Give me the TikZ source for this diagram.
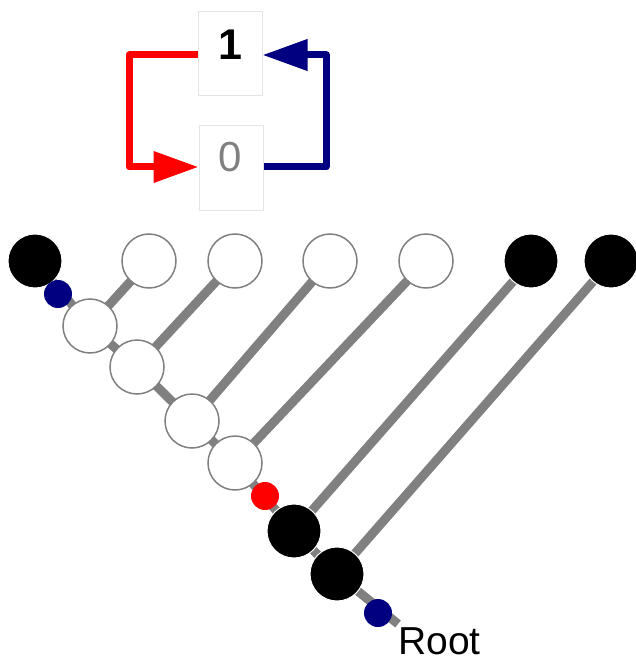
\documentclass[tikz,border=0pt]{standalone}
\usepackage{fontspec}
\setmainfont{Liberation Sans}
\usetikzlibrary{arrows.meta}
\definecolor{navyc}{RGB}{0,0,128}
\definecolor{boxgray}{RGB}{228,228,228}
\tikzset{
  leafw/.style={circle,draw={rgb,255:red,128;green,128;blue,128},line width=1.5pt,fill=white,minimum size=54pt,inner sep=0pt},
  leafb/.style={circle,draw=white,line width=1pt,fill=black,minimum size=54pt,inner sep=0pt},
  dotc/.style={circle,fill=#1,minimum size=28pt,inner sep=0pt},
  edge/.style={draw={rgb,255:red,128;green,128;blue,128},line width=9pt},
  statebox/.style={draw=boxgray,line width=1pt,fill=white,minimum width=64pt,minimum height=84pt,inner sep=0pt},
  legline/.style={line width=7pt,line join=round,-{Triangle[length=45pt,width=30pt]}},
}
\begin{document}
\begin{tikzpicture}[x=1pt,y=-1pt]
\useasboundingbox (0,0) rectangle (635,663);
% legend
\node[statebox] (b1) at (230,54) {};
\node[statebox] (b0) at (231,168) {};
\node[font=\fontsize{43}{43}\selectfont\bfseries] (t1) at (230,45) {1};
\node[font=\fontsize{42}{42}\selectfont,text={rgb,255:red,128;green,128;blue,128}] (t0) at (230,157) {0};
\draw[legline,red] (b1.west |- 0,55) -| (129,167) -- (b0.west |- 0,167);
\draw[legline,navyc] (b0.east |- 0,167) -| (326,55) -- (b1.east |- 0,55);
% tree coordinates
\coordinate (L0) at (35,261);
\coordinate (L1) at (149,261);
\coordinate (L2) at (235,261);
\coordinate (L3) at (330,261);
\coordinate (L4) at (426,261);
\coordinate (L5) at (531,261);
\coordinate (L6) at (611,261);
\coordinate (N1) at (90,326);
\coordinate (N2) at (137,367);
\coordinate (N3) at (192,421);
\coordinate (N4) at (235,463);
\coordinate (N5) at (294,531);
\coordinate (N6) at (337,574);
\coordinate (E) at (398,624);
% edges
\draw[edge] (L0) -- (N1) -- (N2) -- (N3) -- (N4) -- (N5) -- (N6) -- (E);
\draw[edge] (N1) -- (L1);
\draw[edge] (N2) -- (L2);
\draw[edge] (N3) -- (L3);
\draw[edge] (N4) -- (L4);
\draw[edge] (N5) -- (L5);
\draw[edge] (N6) -- (L6);
% nodes
\node[leafb] (l0) at (L0) {};
\node[leafw] (l1) at (L1) {};
\node[leafw] (l2) at (L2) {};
\node[leafw] (l3) at (L3) {};
\node[leafw] (l4) at (L4) {};
\node[leafb] (l5) at (L5) {};
\node[leafb] (l6) at (L6) {};
\node[leafw] (n1) at (N1) {};
\node[leafw] (n2) at (N2) {};
\node[leafw] (n3) at (N3) {};
\node[leafw] (n4) at (N4) {};
\node[leafb] (n5) at (N5) {};
\node[leafb] (n6) at (N6) {};
\node[dotc=navyc] (d1) at (58,294) {};
\node[dotc=red] (d2) at (265,496) {};
\node[dotc=navyc] (d3) at (378,613) {};
\node[anchor=base west,font=\fontsize{39}{39}\selectfont,inner sep=0pt] (root) at (398,654) {Root};
\end{tikzpicture}
\end{document}
